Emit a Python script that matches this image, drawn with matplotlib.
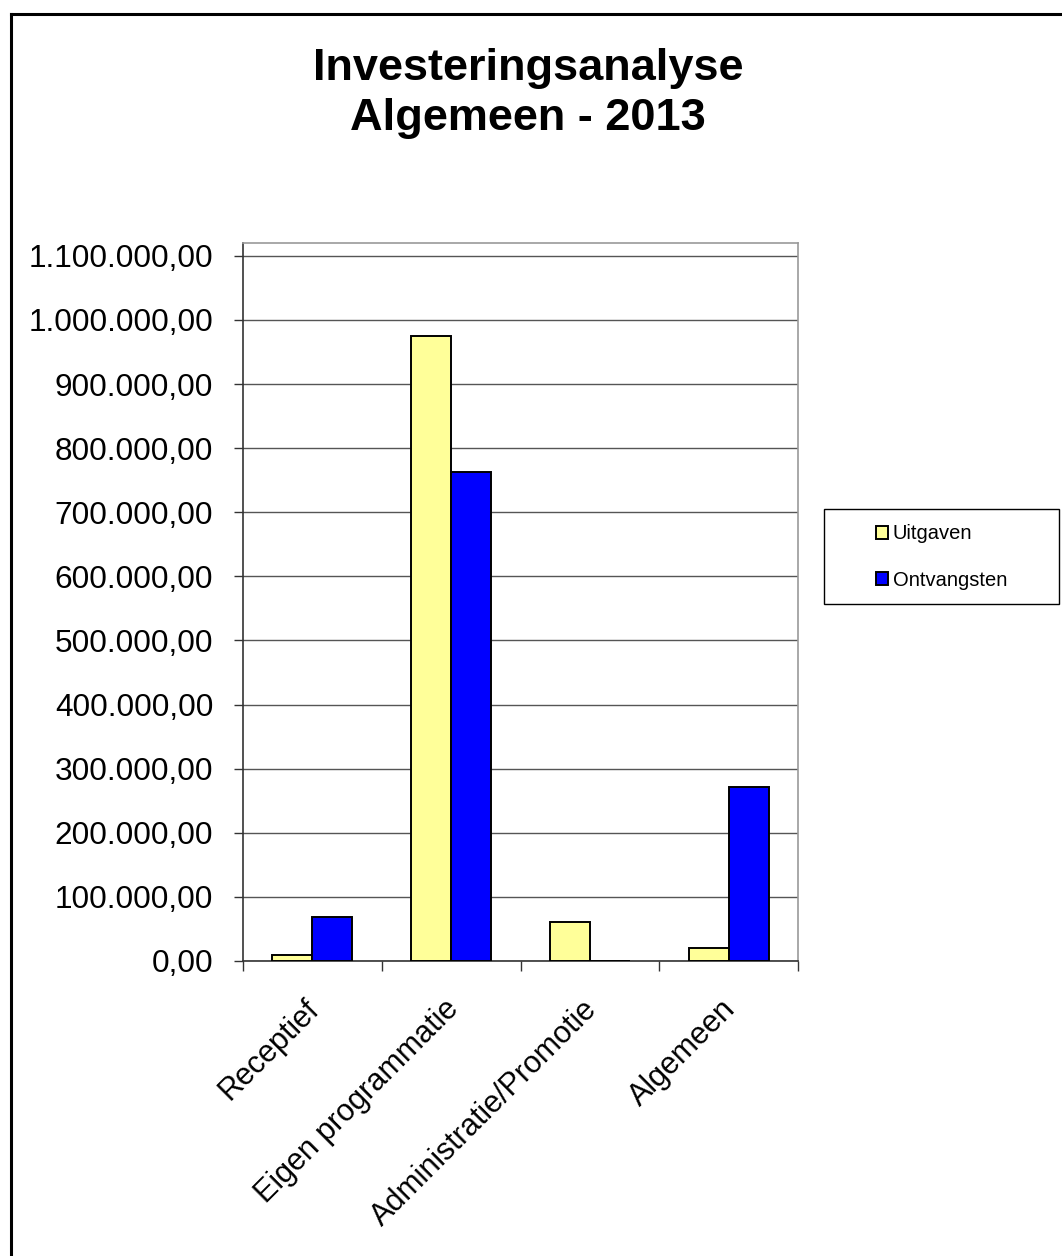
import matplotlib
matplotlib.use("Agg")
import matplotlib.pyplot as plt
import matplotlib.transforms as mtransforms
from matplotlib.lines import Line2D
from matplotlib.patches import Rectangle, Patch
from matplotlib.ticker import FuncFormatter, FixedLocator
import numpy as np

plt.rcParams['font.family'] = ['Liberation Sans', 'DejaVu Sans']

categories = ['Receptief', 'Eigen programmatie', 'Administratie/Promotie', 'Algemeen']
uitgaven = [9000, 975000, 60500, 21000]
ontvangsten = [69000, 763000, 0, 272000]
series_names = ['Uitgaven', 'Ontvangsten']
y_ticks = list(range(0, 1100001, 100000))
title_lines = ['Investeringsanalyse', 'Algemeen - 2013']

W, H = 1062, 1256
fig = plt.figure(figsize=(W / 100, H / 100), dpi=100)

def fx(px):
    return px / W

def fy(py):
    return 1 - py / H

ax = fig.add_axes([fx(243), fy(961), fx(798) - fx(243), fy(243) - fy(961)])

x = np.arange(len(categories))
w = 0.288
ax.bar(x - w / 2, uitgaven, w, color='#FFFF99', edgecolor='black', linewidth=1.4, zorder=3)
ax.bar(x + w / 2, ontvangsten, w, color='#0000FF', edgecolor='black', linewidth=1.4, zorder=3)

ax.set_xlim(-0.5, len(categories) - 0.5)
ax.set_ylim(0, 1120000)

def nl_fmt(v, pos):
    s = f"{v:,.2f}"
    return s.replace(',', 'X').replace('.', ',').replace('X', '.')

ax.yaxis.set_major_locator(FixedLocator(y_ticks))
ax.yaxis.set_major_formatter(FuncFormatter(nl_fmt))
ax.grid(axis='y', color='#555555', linewidth=1.0, zorder=0)
ax.tick_params(axis='y', direction='out', length=6.5, width=1, color='#333333',
               labelsize=22.7, pad=15)

ax.set_xticks(x)
ax.set_xticklabels(categories, rotation=45, ha='right', rotation_mode='anchor', fontsize=22)
ax.set_xticks(np.arange(-0.5, len(categories)), minor=True)
ax.tick_params(axis='x', which='major', length=0, pad=24)
ax.tick_params(axis='x', which='minor', direction='out', length=7, width=1, color='#333333')
offset = mtransforms.ScaledTranslation(-8 / 100, 0, fig.dpi_scale_trans)
for lbl in ax.get_xticklabels():
    lbl.set_transform(lbl.get_transform() + offset)

ax.spines['left'].set_color('#333333')
ax.spines['bottom'].set_color('#333333')
ax.spines['top'].set_color('#999999')
ax.spines['right'].set_color('#999999')
for s in ax.spines.values():
    s.set_linewidth(1.2)

# title, two lines
fig.text(fx(528), fy(80), title_lines[0], ha='center', va='baseline',
         fontsize=32.5, fontweight='bold')
fig.text(fx(528), fy(130), title_lines[1], ha='center', va='baseline',
         fontsize=32.5, fontweight='bold')

# legend box
fig.patches.append(Rectangle((fx(824), fy(604)), fx(1059) - fx(824), fy(509) - fy(604),
                             transform=fig.transFigure, facecolor='white',
                             edgecolor='black', linewidth=1.0))
handles = [Patch(facecolor='#FFFF99', edgecolor='black', linewidth=1.4),
           Patch(facecolor='#0000FF', edgecolor='black', linewidth=1.4)]
fig.legend(handles, series_names, loc='center', bbox_to_anchor=(fx(941.5), fy(557)),
           frameon=False, fontsize=14.5, handlelength=0.6, handleheight=0.6,
           handletextpad=0.25, labelspacing=1.35)

# outer chart border (left and top only visible)
fig.add_artist(Line2D([fx(10.5), fx(10.5)], [0, fy(13.5)], color='black', linewidth=2.2,
                      transform=fig.transFigure))
fig.add_artist(Line2D([fx(10.5), 1], [fy(13.5), fy(13.5)], color='black', linewidth=2.2,
                      transform=fig.transFigure))

fig.savefig('out.png', dpi=100)
